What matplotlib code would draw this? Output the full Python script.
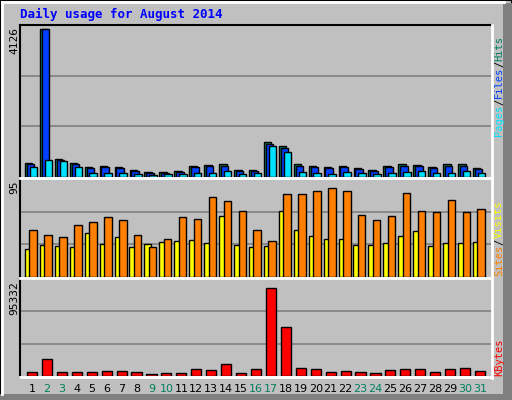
import numpy as np
import matplotlib
matplotlib.use('Agg')
import matplotlib.pyplot as plt
from matplotlib.patches import Rectangle
from matplotlib.lines import Line2D

days = list(range(1, 32))
weekend = [2, 3, 9, 10, 16, 17, 23, 24, 30, 31]

hits = [400, 4126, 510, 400, 280, 300, 280, 200, 150, 150, 180, 300, 330, 350, 200, 190,
        975, 860, 355, 300, 270, 300, 245, 190, 300, 355, 330, 270, 355, 355, 245]
files = [370, 4126, 480, 370, 250, 270, 250, 170, 120, 120, 150, 270, 300, 320, 170, 160,
         930, 800, 320, 270, 240, 270, 215, 160, 270, 320, 300, 240, 320, 320, 215]
pages = [290, 460, 440, 290, 100, 100, 100, 80, 60, 80, 90, 100, 100, 180, 70, 110,
         860, 700, 130, 100, 75, 130, 100, 75, 100, 130, 160, 100, 100, 160, 100]
sites = [28, 32, 31, 30, 44, 33, 40, 30, 33, 35, 36, 37, 34, 60, 32, 30,
         31, 65, 47, 41, 38, 38, 32, 32, 34, 41, 46, 31, 34, 34, 35]
visits = [47, 42, 40, 51, 54, 59, 56, 42, 30, 38, 59, 57, 79, 75, 65, 47,
          36, 82, 82, 85, 88, 85, 61, 56, 60, 83, 65, 64, 76, 64, 67]
kbytes = [3850, 17300, 3850, 3850, 3850, 4800, 4800, 3850, 1900, 2900, 2900, 6700, 5800, 11600, 2900, 6700,
          87600, 49100, 7700, 6700, 3850, 4800, 3850, 2900, 5800, 6700, 6700, 3850, 6700, 7700, 4800]
max_hits = 4126
max_visits = 95
max_kbytes = 95332

W, H = 512, 400
BG = '#c0c0c0'
fig = plt.figure(figsize=(W / 100, H / 100), dpi=100, facecolor=BG)
mono = 'DejaVu Sans Mono'
x = np.array(days)
x0, x1 = 1 - 11 / 14.93, 31 + 11 / 14.93


def add_panel(top, bottom, ymax):
    ax = fig.add_axes([21 / W, 1 - bottom / H, 470 / W, (bottom - top) / H])
    ax.set_facecolor(BG)
    ax.set_xlim(x0, x1)
    ax.set_ylim(0, ymax)
    for v in (ymax / 3, 2 * ymax / 3):
        ax.axhline(v, color='#808080', lw=1.2, zorder=0)
    ax.set_xticks([])
    ax.set_yticks([])
    for s in ax.spines.values():
        s.set_visible(False)
    return ax


# top panel
ax1 = add_panel(25, 177, max_hits * 152 / 148)
ax1.bar(x - 0.22, hits, 0.5, color='#00805c', edgecolor='black', lw=1, zorder=2)
ax1.bar(x - 0.1, files, 0.5, color='#0040ff', edgecolor='black', lw=1, zorder=3)
ax1.bar(x + 0.1, pages, 0.5, color='#00e0ff', edgecolor='black', lw=1, zorder=4)

# middle panel
ax2 = add_panel(179, 277, max_visits * 98 / 96)
ax2.bar(x - 0.25, sites, 0.45, color='#ffff00', edgecolor='black', lw=1, zorder=2)
ax2.bar(x + 0.08, visits, 0.5, color='#ff8000', edgecolor='black', lw=1, zorder=3)

# bottom panel
ax3 = add_panel(279, 376, max_kbytes * 97 / 96)
ax3.bar(x, kbytes, 0.68, color='#ff0000', edgecolor='black', lw=1, zorder=2)

# panel borders
def hline(y, xa, xb, c, lw=1.5):
    fig.add_artist(Line2D([xa / W, xb / W], [1 - y / H, 1 - y / H], color=c, lw=lw))

def vline(xp, ya, yb, c, lw=1.5):
    fig.add_artist(Line2D([xp / W, xp / W], [1 - ya / H, 1 - yb / H], color=c, lw=lw))

hline(25, 20, 492, 'black')
vline(20, 25, 378, 'black')
hline(178, 20, 492, 'white', 2)
hline(278, 20, 492, 'white', 2)
hline(377, 20, 492, 'white', 2)
vline(491.5, 25, 378, 'white', 2)

# outer frame
fig.add_artist(Rectangle((0, 0), 1, 1, transform=fig.transFigure, fill=False, ec='black', lw=1.5))
vline(2, 2, 394, 'white', 2)
hline(2, 2, 504, 'white', 2)
fig.add_artist(Rectangle((503 / W, 0), 9 / W, 1 - 3 / H, transform=fig.transFigure, color='#808080', lw=0))
fig.add_artist(Rectangle((0, 0), 1, 6 / H, transform=fig.transFigure, color='#808080', lw=0))

fig.text(20 / W, 1 - 14 / H, 'Daily usage for August 2014', color='#0000ff', family=mono,
         weight='bold', fontsize=9, va='center')

# max labels
for lab, ytop in [(str(max_hits), 27), (str(max_visits), 181), (str(max_kbytes), 281)]:
    fig.text(14 / W, 1 - ytop / H, lab, rotation=90, family=mono, fontsize=8, va='top', ha='center')

# day labels
for d in days:
    xp = 21 + (d - x0) / (x1 - x0) * 470
    fig.text(xp / W, 1 - 389 / H, str(d), family='DejaVu Sans', fontsize=8, ha='center', va='center',
             color='#00805c' if d in weekend else 'black')

# right side legends, pieces stacked upward
renderer = fig.canvas.get_renderer()

def vlegend(parts, ybottom):
    y = ybottom
    for txt, col in parts:
        t = fig.text(499 / W, 1 - y / H, txt, rotation=90, family=mono, fontsize=7.5,
                     color=col, ha='center', va='bottom')
        bb = t.get_window_extent(renderer)
        y -= bb.height

vlegend([('Pages', '#00e0ff'), ('/', 'black'), ('Files', '#0040ff'), ('/', 'black'), ('Hits', '#00805c')], 136)
vlegend([('Sites', '#ff8000'), ('/', 'black'), ('Visits', '#ffff00')], 276)
vlegend([('KBytes', '#ff0000')], 376)

fig.savefig('out.png', dpi=100, facecolor=BG)
